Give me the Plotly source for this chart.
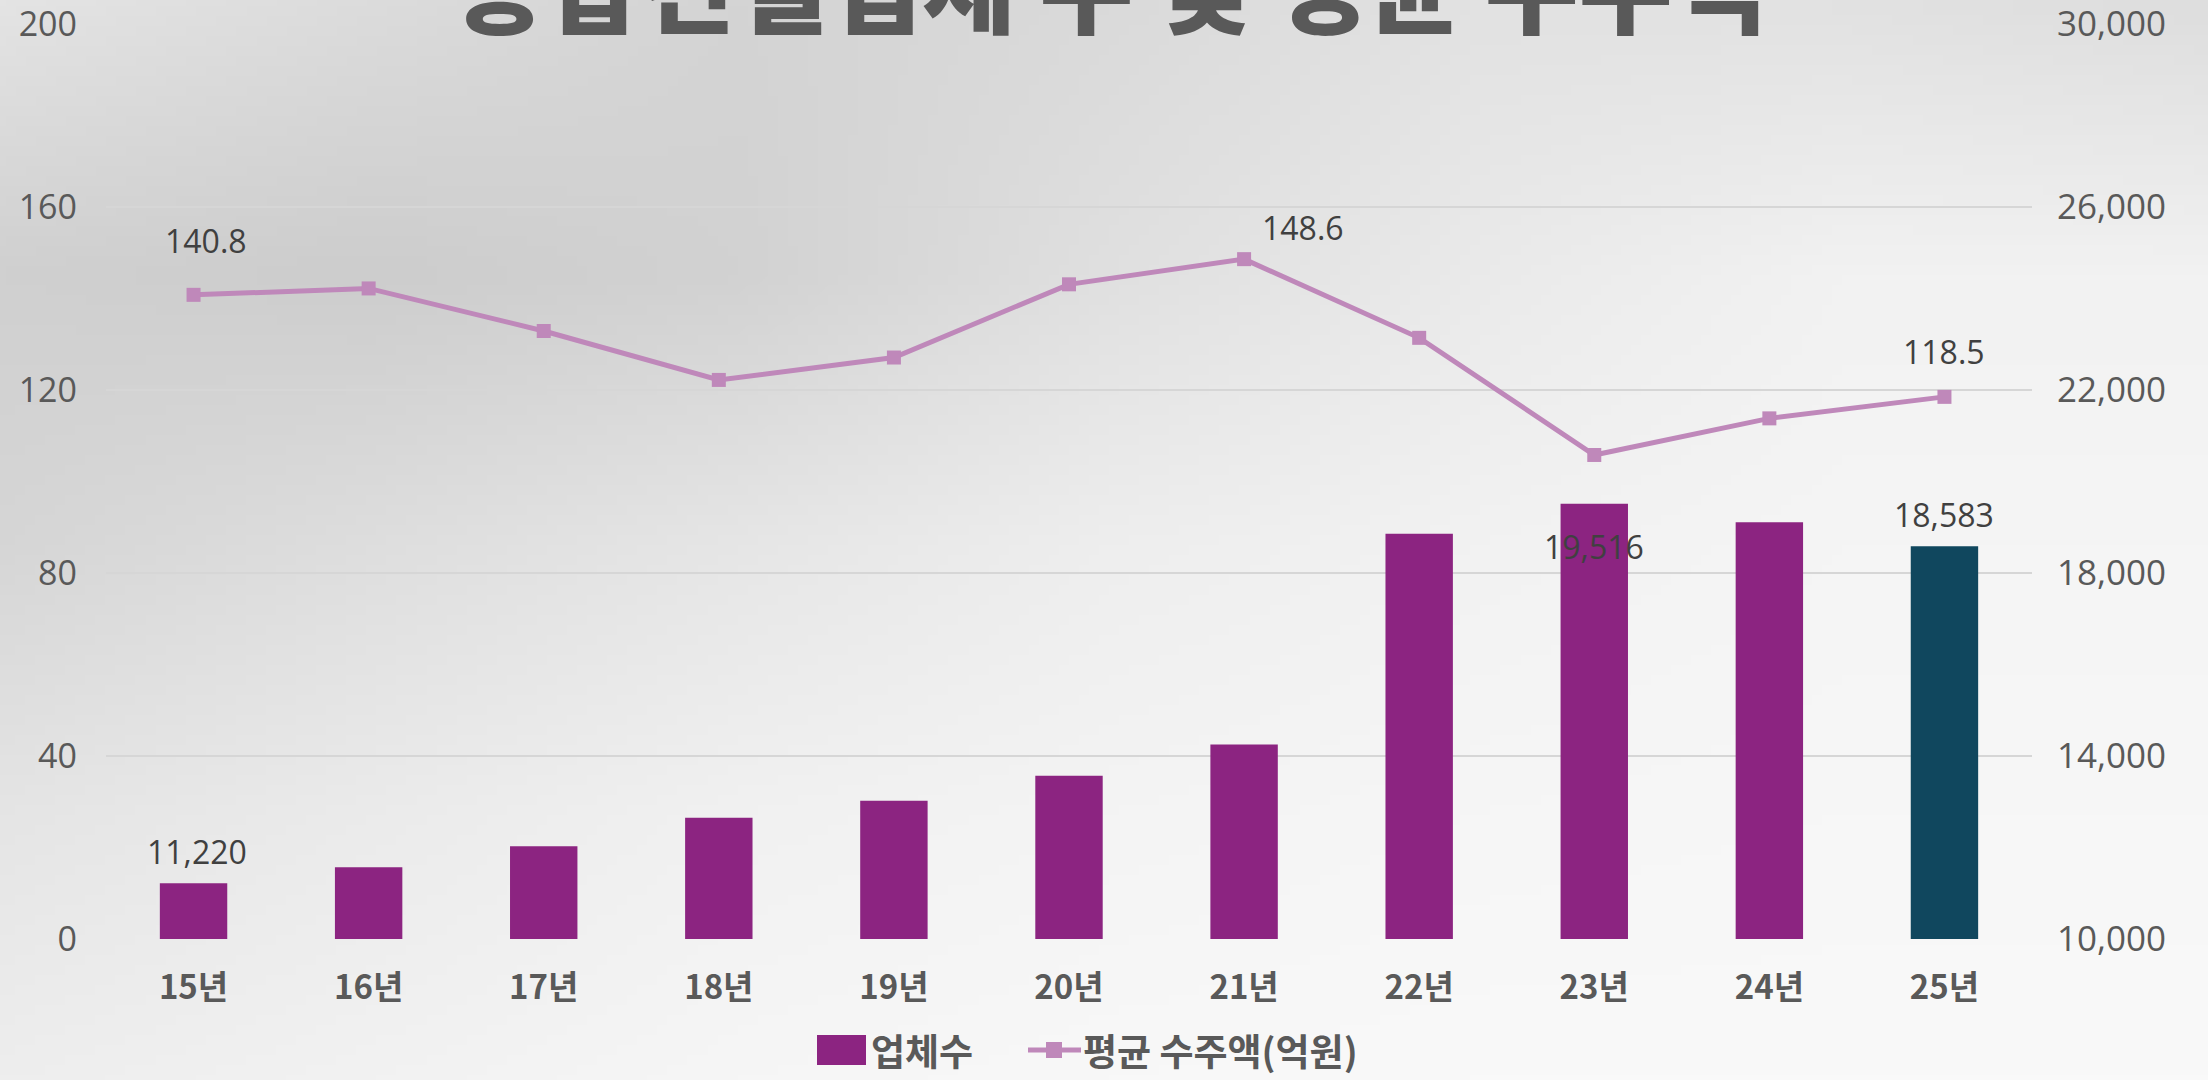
import zlib, struct, base64
import numpy as np
import plotly.graph_objects as go

# ---------------- data ----------------
years = ["15년", "16년", "17년", "18년", "19년", "20년", "21년", "22년", "23년", "24년", "25년"]
companies = [11220, 11570, 12030, 12650, 13020, 13570, 14250, 18860, 19516, 19110, 18583]
avg_orders = [140.8, 142.2, 132.9, 122.2, 127.1, 143.1, 148.6, 131.4, 105.8, 113.8, 118.5]
bar_label_idx = [0, 8, 10]
line_label_idx = [0, 6, 10]
title_text = "종합건설업체 수 및 평균 수주액"
bar_name = "업체수"
line_name = "평균 수주액(억원)"

# ---------------- styles ----------------
W, H = 2208, 1080
ML, MR, MT, MB = 106, 176, 24, 141
PW, PH = W - ML - MR, H - MT - MB
BAR_COLOR = "#8C2481"
LAST_BAR_COLOR = "#10475E"
LINE_COLOR = "#BF88BA"
TEXT_GRAY = "#595959"
LABEL_GRAY = "#404040"
NUM_FONT = "Open Sans"
KR_FONT = "Noto Sans CJK KR"


def px_x(px):
    return (px - ML) / PW


def px_y(py):
    return (H - MB - py) / PH


# background gradient image (decorative)
grid = np.array([
    [228, 220, 212, 218, 226, 226, 222],
    [208, 205, 210, 224, 234, 242, 242],
    [214, 222, 230, 238, 242, 245, 245],
    [229, 235, 241, 244, 246, 247, 247],
    [238, 242, 246, 248, 249, 249, 249],
], dtype=float)


def upsample(g, w, h):
    gy, gx = g.shape
    xs = np.linspace(0, gx - 1, w)
    ys = np.linspace(0, gy - 1, h)
    rows = np.array([np.interp(xs, np.arange(gx), r) for r in g])
    out = np.array([np.interp(ys, np.arange(gy), rows[:, j]) for j in range(w)]).T
    return out


def make_png(arr):
    h, w, _ = arr.shape
    raw = b"".join(b"\x00" + arr[i].tobytes() for i in range(h))

    def chunk(t, d):
        return struct.pack(">I", len(d)) + t + d + struct.pack(">I", zlib.crc32(t + d) & 0xFFFFFFFF)

    png = (b"\x89PNG\r\n\x1a\n"
           + chunk(b"IHDR", struct.pack(">IIBBBBB", w, h, 8, 2, 0, 0, 0))
           + chunk(b"IDAT", zlib.compress(raw, 9))
           + chunk(b"IEND", b""))
    return "data:image/png;base64," + base64.b64encode(png).decode()


g = upsample(grid, 220, 108).clip(0, 255).astype(np.uint8)
img = np.stack([g, g, g], axis=-1)
bg_src = make_png(img)

# ---------------- figure ----------------
fig = go.Figure()

bar_colors = [BAR_COLOR] * (len(years) - 1) + [LAST_BAR_COLOR]
fig.add_trace(go.Bar(
    x=years, y=companies, name=bar_name, yaxis="y2", showlegend=False,
    marker=dict(color=bar_colors, line=dict(width=0)),
))
fig.add_trace(go.Scatter(
    x=years, y=avg_orders, name=line_name, yaxis="y", showlegend=False,
    mode="lines+markers",
    line=dict(color=LINE_COLOR, width=5),
    marker=dict(symbol="square", size=14, color=LINE_COLOR),
))

annotations = []
bar_shifts = [(3, 32), (0, -43), (0, 32)]
for i, (dx, dy) in zip(bar_label_idx, bar_shifts):
    annotations.append(dict(
        x=years[i], y=companies[i], xref="x", yref="y2",
        text=f"{companies[i]:,}", showarrow=False,
        xshift=dx, yshift=dy, yanchor="middle",
        font=dict(family=NUM_FONT, size=32, color=LABEL_GRAY),
    ))
line_shifts = [(12, 54), (59, 32), (0, 45)]
for i, (dx, dy) in zip(line_label_idx, line_shifts):
    annotations.append(dict(
        x=years[i], y=avg_orders[i], xref="x", yref="y",
        text=f"{avg_orders[i]:.1f}", showarrow=False,
        xshift=dx, yshift=dy, yanchor="middle",
        font=dict(family=NUM_FONT, size=32, color=LABEL_GRAY),
    ))
# title (partly cut off at the top, as in the reference)
annotations.append(dict(
    x=px_x(1109), y=px_y(-18), xref="paper", yref="paper",
    text=title_text, showarrow=False, xanchor="center", yanchor="middle",
    font=dict(family=KR_FONT, size=102, color=TEXT_GRAY, weight=900),
))

# custom legend
LEG_Y = 1050
shapes = [
    dict(type="rect", xref="paper", yref="paper",
         x0=px_x(817), x1=px_x(866), y0=px_y(LEG_Y - 15), y1=px_y(LEG_Y + 15),
         fillcolor=BAR_COLOR, line=dict(width=0)),
    dict(type="line", xref="paper", yref="paper",
         x0=px_x(1028), x1=px_x(1081), y0=px_y(LEG_Y), y1=px_y(LEG_Y),
         line=dict(color=LINE_COLOR, width=5)),
    dict(type="rect", xref="paper", yref="paper",
         x0=px_x(1046), x1=px_x(1062), y0=px_y(LEG_Y - 8), y1=px_y(LEG_Y + 8),
         fillcolor=LINE_COLOR, line=dict(width=0)),
]
annotations.append(dict(
    x=px_x(870), y=px_y(LEG_Y), xref="paper", yref="paper",
    text=bar_name, showarrow=False, xanchor="left", yanchor="middle",
    borderpad=0,
    font=dict(family=KR_FONT, size=37, color=TEXT_GRAY, weight=700),
))
annotations.append(dict(
    x=px_x(1082), y=px_y(LEG_Y), xref="paper", yref="paper",
    text=line_name, showarrow=False, xanchor="left", yanchor="middle",
    borderpad=0,
    font=dict(family=KR_FONT, size=37, color=TEXT_GRAY, weight=700),
))

fig.update_layout(
    width=W, height=H,
    margin=dict(l=ML, r=MR, t=MT, b=MB, pad=0, autoexpand=False),
    paper_bgcolor="#e8e8e8",
    plot_bgcolor="rgba(0,0,0,0)",
    bargap=0.615,
    showlegend=False,
    xaxis=dict(
        type="category", range=[-0.5, len(years) - 0.5], autorange=False,
        showgrid=False, zeroline=False, automargin=False,
        showline=False, ticks="", ticklabelstandoff=26,
        tickfont=dict(family=KR_FONT, size=33, color=TEXT_GRAY, weight=700),
    ),
    yaxis=dict(
        range=[0, 200], dtick=40, tick0=0, side="left", automargin=False,
        showgrid=True, gridcolor="#d6d6d6", gridwidth=2,
        zeroline=False, showline=False, ticks="",
        ticklabelstandoff=28, ticklabeloverflow="allow",
        tickfont=dict(family=NUM_FONT, size=34, color=TEXT_GRAY),
    ),
    yaxis2=dict(
        range=[10000, 30000], dtick=4000, tick0=10000, side="right",
        overlaying="y", showgrid=False, zeroline=False, showline=False,
        automargin=False, ticklabeloverflow="allow",
        ticks="", tickformat=",", ticklabelstandoff=24,
        tickfont=dict(family=NUM_FONT, size=35, color=TEXT_GRAY),
    ),
    annotations=annotations,
    shapes=shapes,
    images=[dict(
        source=bg_src, xref="paper", yref="paper",
        x=-ML / PW, y=(H - MB) / PH, sizex=W / PW, sizey=H / PH,
        xanchor="left", yanchor="top", sizing="stretch", layer="below",
    )],
)

fig.write_html(
    "out.html",
    config={"displayModeBar": False},
    post_script="document.body.style.margin='0px';document.body.style.overflow='hidden';",
)
